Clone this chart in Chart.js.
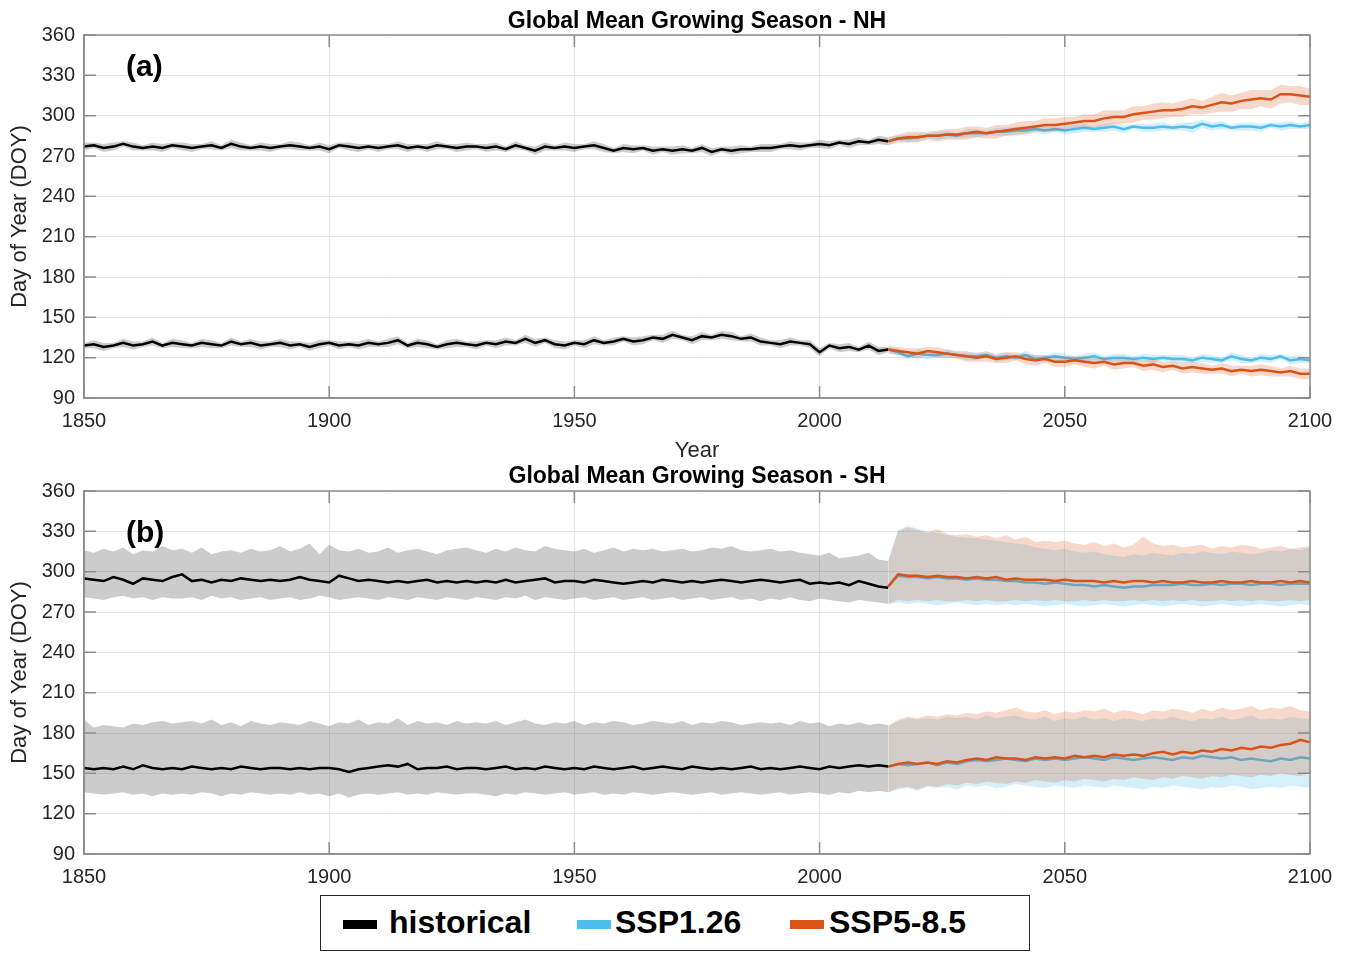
<!DOCTYPE html>
<html>
<head>
<meta charset="utf-8">
<script src="https://cdn.jsdelivr.net/npm/chart.js"></script>
<style>
  body { margin:0; background:#fff; width:1349px; height:953px; position:relative; overflow:hidden; font-family:"Liberation Sans", Arial, sans-serif; }
  canvas { position:absolute; left:0; }
  #legend { position:absolute; left:320px; top:895px; width:710px; height:56px; box-sizing:border-box; border:1.5px solid #262626; background:#fff; }
  #legend .sw { position:absolute; top:24px; width:34px; height:9px; }
  #legend .lt { position:absolute; top:0; line-height:53px; font-weight:bold; font-size:32px; color:#000; }
</style>
</head>
<body>
<canvas id="chartA" width="1349" height="464" style="top:0;width:1349px;height:464px"></canvas>
<canvas id="chartB" width="1349" height="438" style="top:452px;width:1349px;height:438px"></canvas>
<div id="legend">
  <span class="sw" style="left:22px;background:#000"></span><span class="lt" style="left:68px">historical</span>
  <span class="sw" style="left:256px;background:#4DBEEE"></span><span class="lt" style="left:294px">SSP1.26</span>
  <span class="sw" style="left:469px;background:#D95319"></span><span class="lt" style="left:508px">SSP5-8.5</span>
</div>
<script>
// ---- x values (every 2 years) ----
var histYears = [1850,1852,1854,1856,1858,1860,1862,1864,1866,1868,
  1870,1872,1874,1876,1878,1880,1882,1884,1886,1888,
  1890,1892,1894,1896,1898,1900,1902,1904,1906,1908,
  1910,1912,1914,1916,1918,1920,1922,1924,1926,1928,
  1930,1932,1934,1936,1938,1940,1942,1944,1946,1948,
  1950,1952,1954,1956,1958,1960,1962,1964,1966,1968,
  1970,1972,1974,1976,1978,1980,1982,1984,1986,1988,
  1990,1992,1994,1996,1998,2000,2002,2004,2006,2008,
  2010,2012,2014];
var sspYears = [2014,2016,2018,2020,2022,2024,2026,2028,2030,2032,
  2034,2036,2038,2040,2042,2044,2046,2048,2050,2052,
  2054,2056,2058,2060,2062,2064,2066,2068,2070,2072,
  2074,2076,2078,2080,2082,2084,2086,2088,2090,2092,
  2094,2096,2098,2100];

// ---- panel (a) NH: end of season (upper) ----
var nhEndHist = [277,278,276,277,279,277,276,277,276,278,
  277,276,277,278,276,279,277,276,277,276,
  277,278,277,276,277,275,278,277,276,277,
  276,277,278,276,277,276,278,277,276,277,
  277,276,277,275,278,276,274,277,276,277,
  276,277,278,276,274,276,275,276,274,275,
  274,275,274,276,273,275,274,275,275,276,
  276,277,278,277,278,279,278,280,279,281,
  280,282,281];
var nhEndHistSpread = [3,2,3,3,2,3,2,3,3,2, 3,3,2,3,2,3,3,2,3,3, 2,3,3,2,3,3,2,3,3,2, 3,2,3,3,2,3,3,2,3,3,
  2,3,3,2,3,2,3,3,2,3, 3,2,3,3,2,3,3,2,3,2, 3,3,2,3,3,2,3,3,2,3, 3,2,3,3,2,3,3,2,3,3, 2,3,3];
var nhEnd126 = [281,283,283,284,285,285,286,285,287,287,
  287,288,288,289,289,290,289,290,289,290,
  291,290,291,292,290,292,291,291,292,291,
  292,291,294,292,293,291,292,292,291,293,
  292,293,292,293];
var nhEnd126Spread = [3,2,3,3,2,3,3,2,3,3, 2,3,3,3,2,3,3,2,3,3, 3,2,3,3,3,2,3,3,3,2, 3,4,3,3,3,2,3,3,3,2, 3,3,2,3];
var nhEnd585 = [281,283,284,284,285,285,286,286,287,288,
  287,288,289,290,291,292,293,293,294,295,
  296,296,298,299,299,301,302,303,304,304,
  305,307,306,308,310,309,311,312,313,312,
  316,316,315,314];
var nhEnd585Spread = [3,3,4,4,3,4,4,4,5,4, 4,5,4,5,5,4,5,5,5,4, 5,5,6,5,5,6,5,6,6,5, 6,6,5,6,7,6,6,7,6,7, 7,6,7,6];

// ---- panel (a) NH: start of season (lower) ----
var nhStartHist = [129,130,128,129,131,129,130,132,129,131,
  130,129,131,130,129,132,130,131,129,130,
  131,129,130,128,130,131,129,130,129,131,
  130,131,133,129,131,130,128,130,131,130,
  129,131,130,132,131,134,131,133,130,129,
  131,130,133,131,132,134,132,133,135,134,
  137,135,133,136,135,137,136,134,135,132,
  131,130,132,131,130,124,129,127,128,126,
  129,125,126];
var nhStartHistSpread = [2,3,3,2,3,3,2,3,2,3, 3,2,3,3,2,3,2,3,3,2, 3,3,2,3,3,2,3,2,3,3, 2,3,3,2,3,3,2,3,3,2,
  3,2,3,3,2,3,3,2,3,3, 2,3,3,2,3,2,3,3,2,3, 3,2,3,3,2,3,3,2,3,3, 2,3,3,2,3,3,2,3,3,2, 3,3,2];
var nhStart126 = [126,124,121,123,122,122,123,122,121,121,
  122,120,121,120,122,119,120,121,120,119,
  120,121,119,120,120,119,120,119,120,119,
  119,118,120,119,118,121,119,118,120,119,
  121,118,119,118];
var nhStart126Spread = [2,3,2,3,3,2,3,2,3,3, 2,3,3,2,3,3,2,3,3,2, 3,3,2,3,3,2,3,3,2,3, 3,2,3,3,2,3,3,2,3,3, 2,3,3,2];
var nhStart585 = [126,125,124,123,125,124,123,122,121,120,
  121,119,120,121,119,118,119,117,117,118,
  117,116,117,115,116,116,114,115,113,114,
  112,113,112,111,112,110,111,110,111,110,
  109,110,108,108];
var nhStart585Spread = [3,3,3,4,3,4,3,3,4,3, 4,3,4,3,4,4,3,4,4,3, 4,4,3,4,4,3,4,4,4,3, 4,4,4,3,4,4,3,4,4,4, 3,4,4,4];

// ---- panel (b) SH: end of season (upper) ----
var shEndHist = [295,294,293,296,294,291,295,294,293,296,
  298,293,294,292,294,293,295,294,293,294,
  293,294,296,294,293,292,297,295,293,294,
  293,292,293,292,293,294,292,293,292,293,
  292,293,292,294,292,293,294,295,292,293,
  293,292,294,293,292,291,292,293,292,294,
  293,292,293,292,293,294,293,292,293,294,
  293,292,293,294,291,292,291,292,290,293,
  291,289,288];
var shEndHistHi = [316,314,317,315,318,313,316,315,319,316,
  317,314,318,313,315,316,314,317,315,316,
  319,315,317,321,313,320,316,315,317,314,
  315,318,314,316,317,315,313,316,317,318,
  316,314,317,315,318,316,315,319,317,316,
  315,317,314,316,318,315,317,316,317,315,
  316,317,315,316,318,317,319,316,315,316,
  317,315,316,314,313,312,314,310,311,312,
  314,309,308];
var shEndHistLo = [281,280,279,281,282,280,281,279,281,280,
  280,281,279,282,280,281,279,280,281,279,
  280,281,279,280,282,281,279,280,281,280,
  279,281,280,279,281,280,279,281,280,279,
  281,280,279,281,280,282,279,281,280,279,
  280,281,279,280,281,279,280,281,279,280,
  281,279,280,281,279,280,281,279,280,278,
  280,279,281,279,278,280,279,278,277,279,
  278,277,276];
var shEnd126 = [289,297,296,296,295,296,295,295,294,295,
  294,294,293,293,292,292,291,292,291,290,
  290,289,290,289,288,289,289,290,290,290,
  291,290,290,291,290,291,291,290,291,291,
  290,291,291,291];
var shEnd126Hi = [308,331,334,332,330,329,327,326,325,325,
  324,323,322,321,320,318,317,316,317,315,
  314,315,313,312,311,313,312,314,313,312,
  314,313,315,314,313,315,314,313,314,316,
  315,317,316,318];
var shEnd126Lo = [276,277,276,277,276,275,276,277,276,275,
  276,275,276,275,276,275,274,275,276,275,
  274,275,276,275,274,275,276,275,274,275,
  276,275,274,275,276,275,274,275,276,275,
  274,275,276,275];
var shEnd585 = [289,298,297,297,296,297,296,296,295,296,
  295,296,294,295,294,294,294,293,294,293,
  293,293,292,293,292,293,293,292,293,292,
  292,293,292,292,293,292,292,293,292,292,
  293,292,293,292];
var shEnd585Hi = [308,330,333,331,329,332,328,327,328,326,
  327,325,327,324,326,322,323,322,323,321,
  320,322,319,321,318,320,326,321,319,320,
  318,319,320,317,319,318,320,319,317,318,
  319,317,318,319];
var shEnd585Lo = [276,279,278,279,278,279,278,278,279,278,
  279,278,278,279,278,279,278,279,278,278,
  279,278,279,278,278,279,278,279,278,279,
  278,279,278,278,279,278,279,278,279,278,
  278,279,278,279];

// ---- panel (b) SH: start of season (lower) ----
var shStartHist = [154,153,154,153,155,153,156,154,153,154,
  153,155,154,153,154,153,155,154,153,154,
  154,153,154,153,154,154,153,151,153,154,
  155,156,155,157,153,154,154,155,153,154,
  154,153,154,155,153,154,153,155,154,153,
  154,153,155,154,153,154,155,153,154,155,
  154,153,155,154,153,154,153,154,155,153,
  154,153,154,155,154,153,155,154,155,156,
  155,156,155];
var shStartHistHi = [190,184,186,185,184,187,186,188,189,187,
  188,189,187,190,186,188,185,189,187,186,
  188,187,186,189,187,185,188,187,190,186,
  188,187,191,186,189,187,188,186,189,187,
  188,187,189,186,188,190,187,186,188,187,
  189,186,188,187,189,188,186,187,189,188,
  187,189,186,188,187,189,188,186,187,188,
  187,188,186,189,187,188,185,187,186,188,
  186,187,186];
var shStartHistLo = [136,135,134,135,136,134,135,133,135,134,
  135,134,136,135,133,135,134,136,135,134,
  135,134,136,134,135,133,135,132,134,135,
  134,135,136,134,135,134,136,135,134,135,
  135,134,133,135,134,136,135,134,135,136,
  134,135,136,134,135,134,136,135,134,135,
  136,135,134,135,136,134,135,136,135,134,
  135,136,134,135,136,135,134,136,135,137,
  136,137,136];
var shStart126 = [155,157,156,157,158,156,158,157,159,160,
  159,160,161,160,159,161,160,161,160,161,
  162,161,160,162,161,160,161,162,161,160,
  162,161,163,162,161,162,160,161,160,159,
  161,160,162,161];
var shStart126Hi = [185,189,191,190,191,190,192,191,192,190,
  193,191,192,193,191,190,192,189,191,190,
  192,190,191,189,191,190,189,191,190,192,
  190,189,191,190,192,190,191,193,190,191,
  190,192,191,190];
var shStart126Lo = [136,138,139,137,140,139,140,138,141,140,
  141,139,140,142,141,140,139,141,140,139,
  141,140,139,141,140,139,138,140,139,141,
  140,139,138,140,139,141,140,138,139,140,
  139,141,140,139];
var shStart585 = [155,157,158,157,158,157,159,158,160,161,
  160,162,161,161,160,162,161,162,161,163,
  162,163,162,164,163,164,163,165,166,164,
  166,165,167,166,168,167,169,168,170,169,
  171,172,175,173];
var shStart585Hi = [185,190,192,191,193,192,194,193,195,194,
  196,195,197,199,196,195,197,194,196,195,
  197,196,198,195,197,196,194,197,196,198,
  197,195,198,196,199,197,198,200,197,199,
  198,200,197,196];
var shStart585Lo = [136,139,140,138,141,140,142,141,143,142,
  144,143,142,144,143,145,144,143,145,144,
  146,145,144,146,145,147,146,145,147,146,
  148,147,146,148,147,149,148,147,149,148,
  150,149,148,150];

var COLORS = { hist:'#000000', s126:'#4DBEEE', s585:'#D95319' };
var BANDS = { hist:'rgba(0,0,0,0.2)', s126:'rgba(77,190,238,0.25)', s585:'rgba(217,83,25,0.22)' };

Chart.defaults.font.family = '"Liberation Sans", Arial, sans-serif';
Chart.defaults.animation = false;

function pts(xs, ys){ return xs.map(function(x, i){ return {x:x, y:ys[i]}; }); }
function offset(mean, sp, sign){ return mean.map(function(v, i){ return v + sign * sp[i]; }); }
function band(xs, lo, hi, color){
  return [
    { data: pts(xs, lo), borderWidth:0, borderColor:'transparent', pointRadius:0, fill:false },
    { data: pts(xs, hi), borderWidth:0, borderColor:'transparent', pointRadius:0, fill:'-1', backgroundColor:color }
  ];
}
function line(xs, ys, color){
  return { data: pts(xs, ys), borderColor:color, borderWidth:2.5, pointRadius:0, fill:false, tension:0 };
}
// later datasets should sit on top
function stack(list){ list.forEach(function(d, i){ d.order = list.length - i; }); return list; }

// box + inner ticks + panel letter (MATLAB style axes)
var boxPlugin = {
  id: 'box',
  afterDraw: function(chart, args, opts){
    var ctx = chart.ctx, a = chart.chartArea, x = chart.scales.x, y = chart.scales.y;
    ctx.save();
    ctx.strokeStyle = '#8c8c8c'; ctx.lineWidth = 1.5;
    ctx.strokeRect(a.left, a.top, a.right - a.left, a.bottom - a.top);
    ctx.beginPath();
    x.ticks.forEach(function(t){
      var px = x.getPixelForValue(t.value);
      ctx.moveTo(px, a.bottom); ctx.lineTo(px, a.bottom - 12);
      ctx.moveTo(px, a.top); ctx.lineTo(px, a.top + 12);
    });
    y.ticks.forEach(function(t){
      var py = y.getPixelForValue(t.value);
      ctx.moveTo(a.left, py); ctx.lineTo(a.left + 12, py);
      ctx.moveTo(a.right, py); ctx.lineTo(a.right - 12, py);
    });
    ctx.stroke();
    ctx.fillStyle = '#000';
    ctx.font = 'bold 30px "Liberation Sans", Arial, sans-serif';
    ctx.textBaseline = 'middle';
    ctx.fillText(opts.label, a.left + 42, a.top + opts.dy);
    ctx.restore();
  }
};

function makeChart(id, title, titlePad, datasets, xHeight, showYear, label, dy){
  return new Chart(document.getElementById(id), {
    type: 'line',
    data: { datasets: datasets },
    plugins: [boxPlugin],
    options: {
      responsive: false,
      layout: { padding: { left:0, right:39, top:0, bottom:0 } },
      plugins: {
        legend: { display:false },
        tooltip: { enabled:false },
        title: { display:true, fullSize:false, text:title, color:'#000', font:{ size:23, weight:'bold', lineHeight:1 }, padding:titlePad },
        box: { label:label, dy:dy }
      },
      scales: {
        x: {
          type:'linear', min:1850, max:2100,
          ticks: { stepSize:50, padding:11, color:'#262626', font:{ size:20 }, autoSkip:false, maxRotation:0,
                   callback:function(v){ return String(v); } },
          grid: { color:'#e6e6e6', drawTicks:false },
          border: { display:true, color:'#8c8c8c', width:1.5 },
          title: { display:showYear, text:'Year', color:'#262626', font:{ size:22 }, padding:{ top:0, bottom:0 } },
          afterFit: function(s){ s.height = xHeight; }
        },
        y: {
          min:90, max:360,
          ticks: { stepSize:30, padding:9, color:'#262626', font:{ size:20 }, autoSkip:false },
          grid: { color:'#e6e6e6', drawTicks:false },
          border: { display:true, color:'#8c8c8c', width:1.5 },
          title: { display:true, text:'Day of Year (DOY)', color:'#262626', font:{ size:22 }, padding:{ top:7, bottom:0 } },
          afterFit: function(s){ s.width = 84; }
        }
      }
    }
  });
}

// draw order: historical, then each scenario's lines followed by its bands
function panel(h, b, o){
  return stack([].concat(
    band(histYears, h.endLo, h.endHi, BANDS.hist),
    band(histYears, h.startLo, h.startHi, BANDS.hist),
    [line(histYears, h.end, COLORS.hist), line(histYears, h.start, COLORS.hist)],
    [line(sspYears, b.end, COLORS.s126), line(sspYears, b.start, COLORS.s126)],
    band(sspYears, b.endLo, b.endHi, BANDS.s126),
    band(sspYears, b.startLo, b.startHi, BANDS.s126),
    [line(sspYears, o.end, COLORS.s585), line(sspYears, o.start, COLORS.s585)],
    band(sspYears, o.endLo, o.endHi, BANDS.s585),
    band(sspYears, o.startLo, o.startHi, BANDS.s585)
  ));
}
function spreadSeries(end, endSp, start, startSp){
  return { end:end, endLo:offset(end, endSp, -1), endHi:offset(end, endSp, 1),
           start:start, startLo:offset(start, startSp, -1), startHi:offset(start, startSp, 1) };
}

// panel (a)
var setsA = panel(
  spreadSeries(nhEndHist, nhEndHistSpread, nhStartHist, nhStartHistSpread),
  spreadSeries(nhEnd126, nhEnd126Spread, nhStart126, nhStart126Spread),
  spreadSeries(nhEnd585, nhEnd585Spread, nhStart585, nhStart585Spread)
);
makeChart('chartA', 'Global Mean Growing Season - NH', { top:10.3, bottom:1.7 }, setsA, 66, true, '(a)', 33);

// panel (b)
var setsB = panel(
  { end:shEndHist, endLo:shEndHistLo, endHi:shEndHistHi, start:shStartHist, startLo:shStartHistLo, startHi:shStartHistHi },
  { end:shEnd126, endLo:shEnd126Lo, endHi:shEnd126Hi, start:shStart126, startLo:shStart126Lo, startHi:shStart126Hi },
  { end:shEnd585, endLo:shEnd585Lo, endHi:shEnd585Hi, start:shStart585, startLo:shStart585Lo, startHi:shStart585Hi }
);
makeChart('chartB', 'Global Mean Growing Season - SH', { top:13.3, bottom:2.7 }, setsB, 36, false, '(b)', 43);
</script>
</body>
</html>
